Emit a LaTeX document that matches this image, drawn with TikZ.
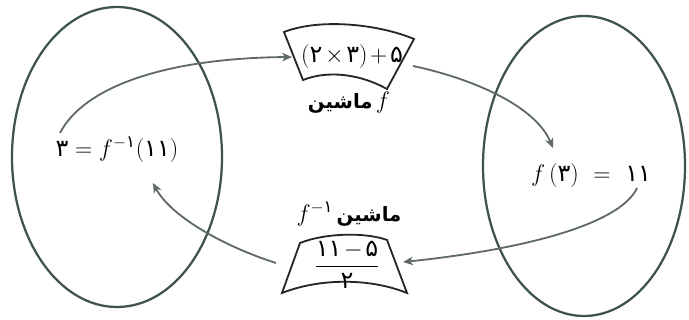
\RequirePackage{fix-cm}
\documentclass[tikz,border=0pt]{standalone}
\usepackage{amsmath}
\usepackage{fontspec}
\usetikzlibrary{arrows.meta}
\TeXXeTstate=1
\newfontfamily\farsi[Script=Arabic]{DejaVu Sans}
\newcommand{\fa}[1]{\text{\farsi #1}}
\definecolor{setgray}{RGB}{62,82,82}
\definecolor{arrgray}{RGB}{95,105,105}

\begin{document}
\begin{tikzpicture}[x=0.025cm, y=-0.025cm,
	set/.style={line width=1.6pt, draw=setgray},
	box/.style={line width=1.3pt, draw=black!85},
	conn/.style={line width=1.3pt, draw=arrgray, -{Stealth[length=7pt, width=6pt, inset=2pt]}},
	eq/.style={font=\fontsize{17}{20}\selectfont, inner sep=1pt},
	lbl/.style={font=\fontsize{14}{16}\selectfont, inner sep=1pt}]
	\useasboundingbox (0, 0) rectangle (689, 320);
	% the two sets
	\draw [set] (117, 157) ellipse [x radius=105, y radius=150];
	\draw [set] (584, 166) ellipse [x radius=101, y radius=150];
	\node [eq] (lefteq) at (117, 150) {$\fa{۳} = f^{-\fa{۱}}(\fa{۱۱})$};
	\node [eq] (righteq) at (591, 176) {$f\,(\fa{۳})\mskip6mu=\mskip6mu\fa{۱۱}$};
	% machine f
	\draw [box] (284, 32) .. controls (320, 18) and (378, 24) .. (414, 39) -- (387, 89) .. controls (360, 74) and (328, 70) .. (303, 80) -- cycle;
	\node [eq] (fbox) at (352, 57) {$(\fa{۲}\mskip2mu{\times}\mskip2mu\fa{۳})\mskip2mu{+}\mskip2mu\fa{۵}$};
	\node [lbl] (flbl) at (349, 103) {{\farsi\bfseries\beginR ماشین\endR}\,{\fontsize{17}{20}\selectfont$f$}};
	% machine f^-1
	\draw [box] (300, 243) .. controls (325, 233) and (365, 232) .. (387, 240) -- (407, 293) .. controls (370, 278) and (320, 278) .. (282, 293) -- cycle;
	\node [eq] (ginvbox) at (347, 265) {$\dfrac{\fa{۱۱}\mskip2mu{-}\mskip2mu\fa{۵}}{\fa{۲}}$};
	\node [lbl] (ginvlbl) at (349, 214) {{\fontsize{17}{20}\selectfont$f^{-\fa{۱}}$}\,{\farsi\bfseries\beginR ماشین\endR}};
	% arrow ends
	\coordinate (fin) at (292, 57);
	\coordinate (fout) at (413, 66);
	\coordinate (ginvin) at (403, 262);
	\coordinate (ginvout) at (276, 263);
	\coordinate (lefttop) at (60, 133);
	\coordinate (leftend) at (153, 183);
	\coordinate (rightend) at (553, 148);
	\coordinate (rightbot) at (637, 188);
	\draw [conn] (lefttop) .. controls (85, 85) and (170, 58) .. (fin);
	\draw [conn] (fout) .. controls (470, 78) and (535, 105) .. (rightend);
	\draw [conn] (rightbot) .. controls (620, 225) and (520, 250) .. (ginvin);
	\draw [conn] (ginvout) .. controls (220, 245) and (170, 215) .. (leftend);
\end{tikzpicture}
\end{document}
